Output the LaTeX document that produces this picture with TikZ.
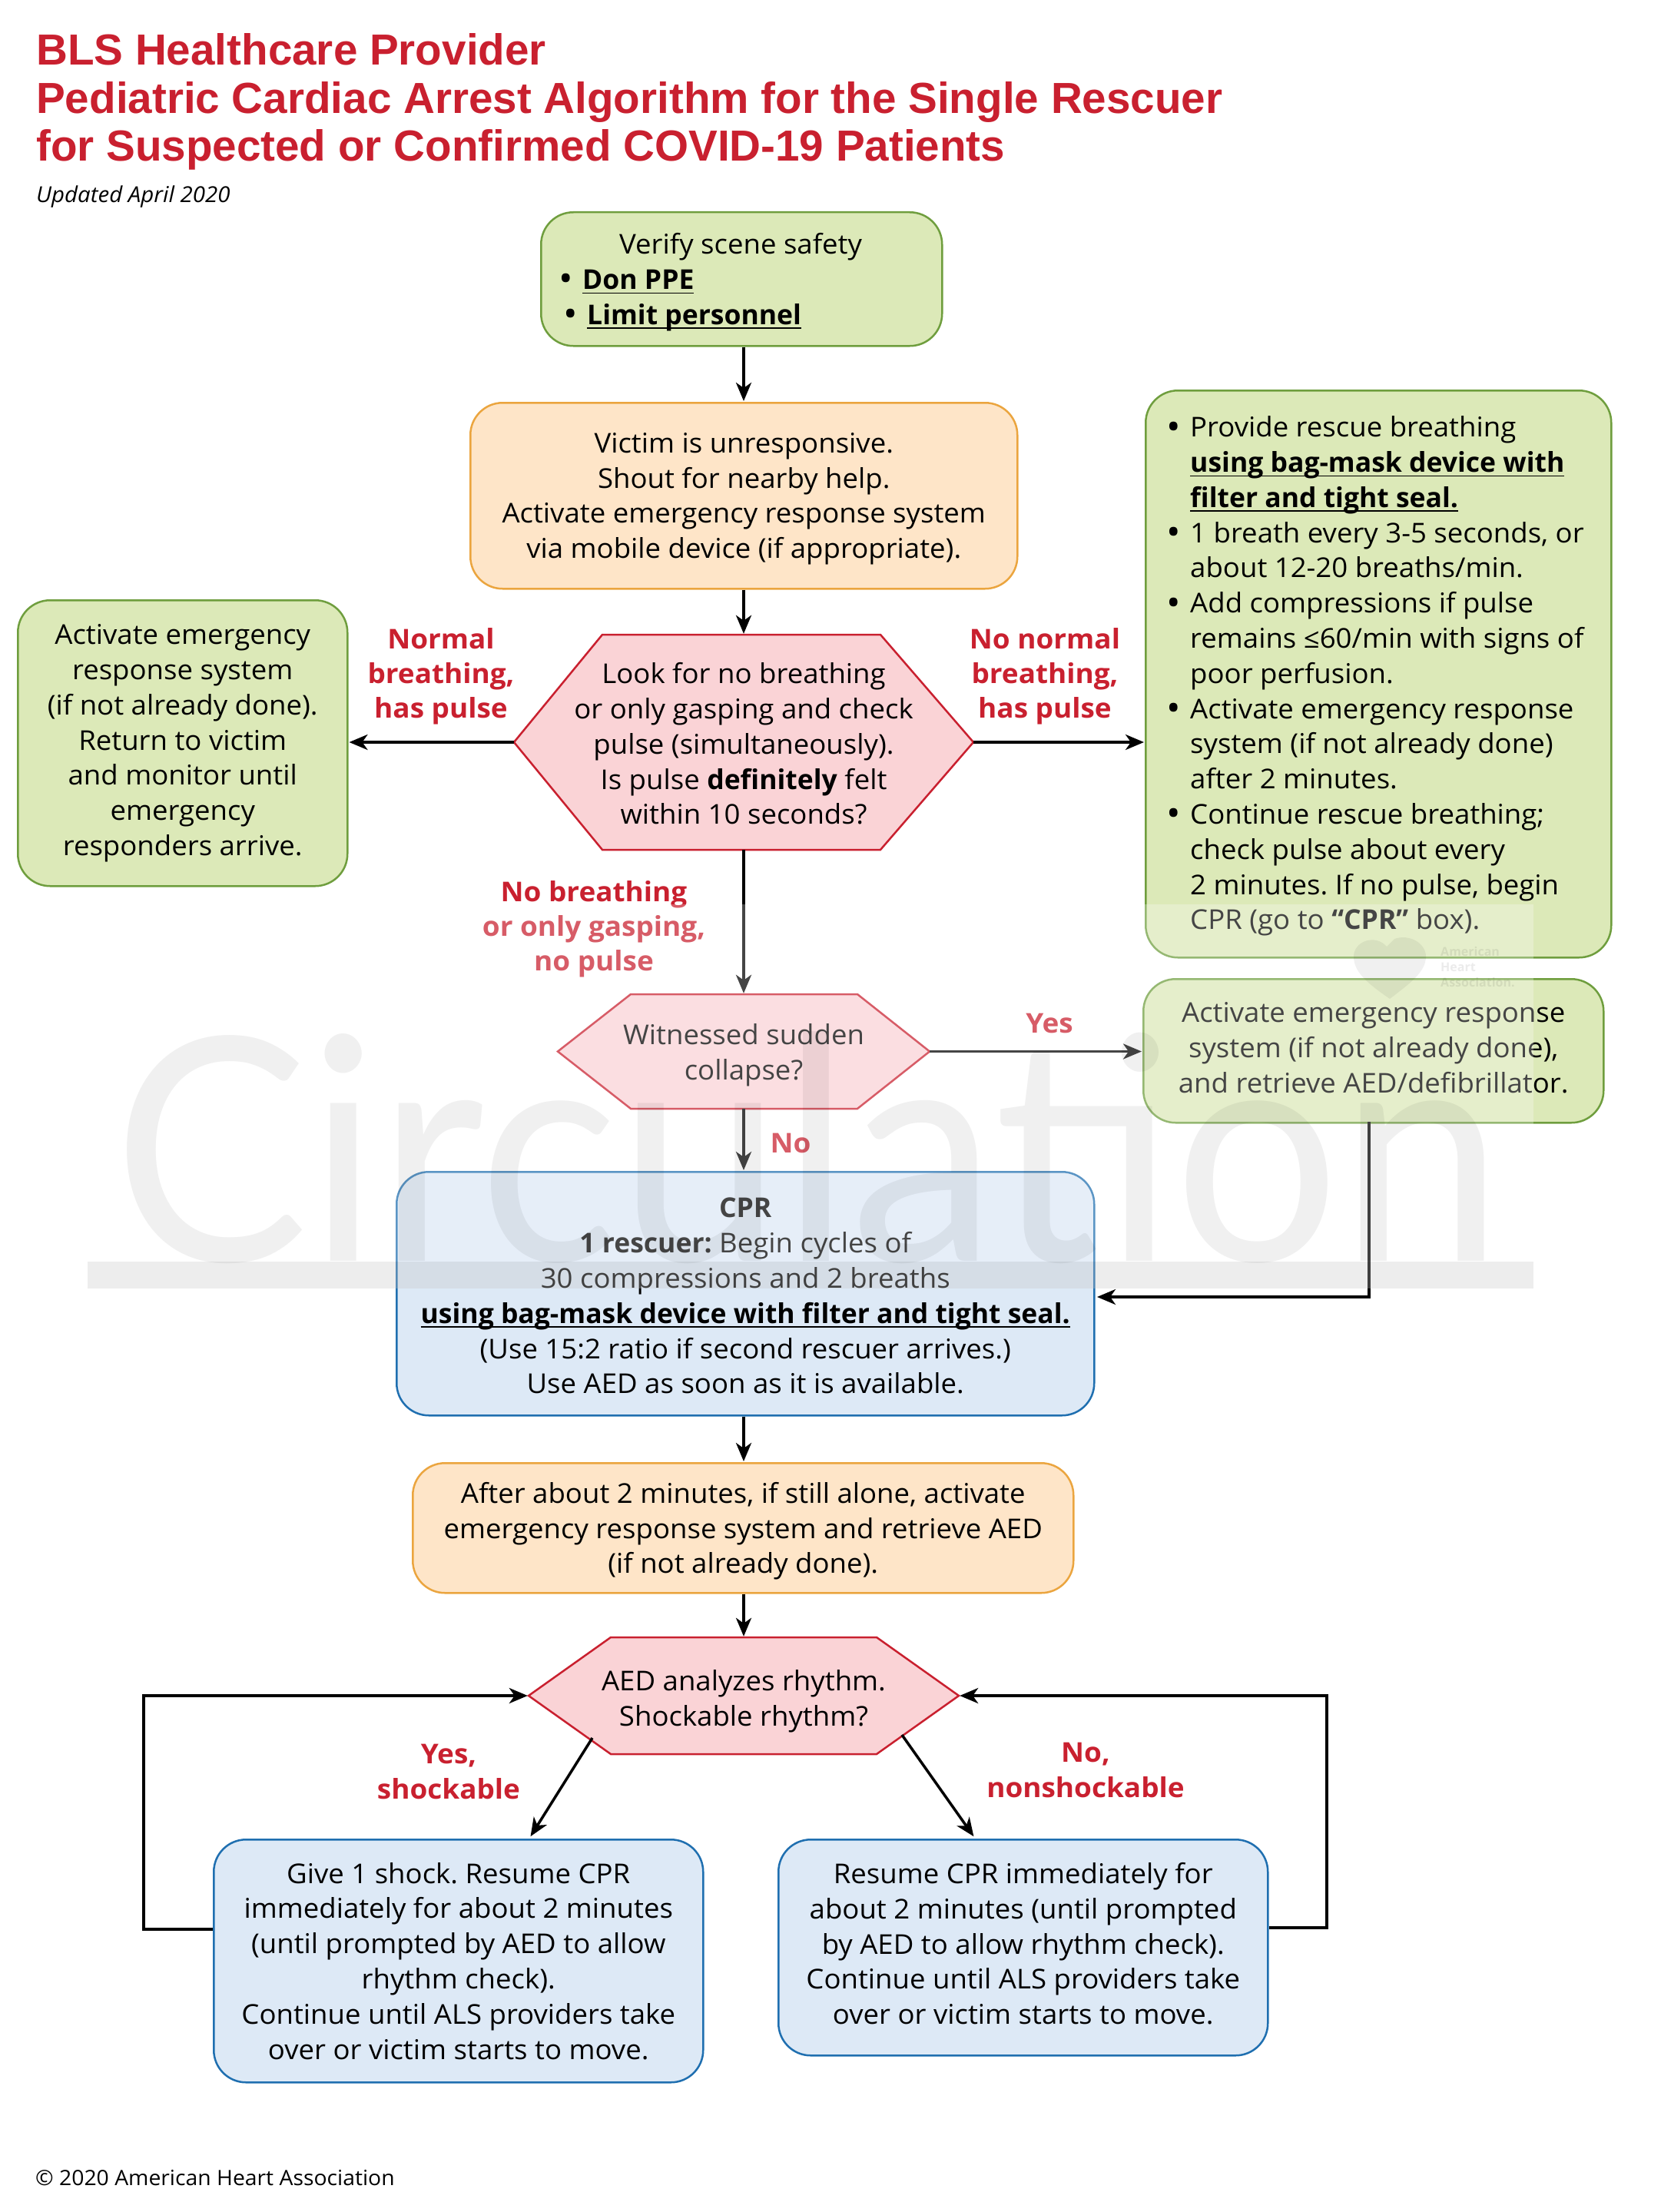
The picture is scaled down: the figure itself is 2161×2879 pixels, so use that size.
\documentclass[tikz,border=0pt]{standalone}
\usepackage{fontspec}
\usepackage{graphicx}
\setmainfont[FakeStretch=1.03,BoldFeatures={FakeStretch=1.0}]{Open Sans}
\newfontfamily\titlefont{Liberation Sans}
\newfontfamily\labfont[FakeStretch=1.04]{Open Sans}
\usetikzlibrary{arrows.meta,calc}
\definecolor{ahared}{HTML}{C9202F}
\definecolor{grfill}{HTML}{DCE9B8}
\definecolor{grline}{HTML}{6F9E3E}
\definecolor{orfill}{HTML}{FEE5C8}
\definecolor{orline}{HTML}{EBA53F}
\definecolor{hxfill}{HTML}{FAD3D6}
\definecolor{blfill}{HTML}{DDE9F6}
\definecolor{blline}{HTML}{1F6FB0}
\AtBeginDocument{\frenchspacing}
\newcommand\ulb[1]{\setbox0\hbox{\bfseries #1}\rlap{\rule[-6pt]{\wd0}{1.8pt}}\box0}
\newcommand\bul{\llap{\raisebox{-3.5pt}{\scalebox{1.35}{•}}\hspace{12pt}}}
\tikzset{
  x=1pt,y=-1pt,
  body/.style={font=\fontsize{35.5}{45.8}\selectfont,text=black,align=center,inner sep=0pt},
  flowbox/.style={draw,line width=2.5pt,rounded corners=42pt,anchor=north west,inner sep=0pt},
  green box/.style={flowbox,draw=grline,fill=grfill},
  orange box/.style={flowbox,draw=orline,fill=orfill},
  blue box/.style={flowbox,draw=blline,fill=blfill},
  hexshape/.style={draw=ahared,fill=hxfill,line width=2.5pt,line join=miter},
  arr/.style={draw=black,line width=3.5pt,shorten >=1pt,-{Stealth[length=24pt,width=20pt,inset=7pt]}},
  lab/.style={font=\fontsize{35.5}{45.2}\labfont\bfseries,text=ahared,align=center,inner sep=0pt},
  ttl/.style={font=\fontsize{56.6}{62}\titlefont\bfseries,text=ahared,anchor=base west,inner sep=0pt},
  small/.style={font=\fontsize{27.5}{32}\selectfont,text=black,inner sep=0pt,anchor=base west},
}
% style, name, x, y, w, h, text shift, text
\newcommand\boxnode[8]{%
  \node[#1,minimum width=#5 pt,minimum height=#6 pt] (#2) at (#3,#4) {};
  \node[body] (#2-t) at ($(#2.center)+(0,#7)$) {#8};
}
% name, left, inner left, inner right, right, top, bottom, text shift, text
\newcommand\hexnode[9]{%
  \pgfmathsetmacro\hxm{(#6+#7)/2}\pgfmathsetmacro\hxc{(#2+#5)/2}%
  \pgfmathsetmacro\hxw{#5-#2}\pgfmathsetmacro\hxh{#7-#6}%
  \draw[hexshape] (#2,\hxm) -- (#3,#6) -- (#4,#6) -- (#5,\hxm) -- (#4,#7) -- (#3,#7) -- cycle;
  \node[inner sep=0pt,minimum width=\hxw pt,minimum height=\hxh pt] (#1) at (\hxc,\hxm) {};
  \node[body] (#1-t) at ($(#1.center)+(0,#8)$) {#9};
}
\begin{document}
\begin{tikzpicture}
\useasboundingbox (0,0) rectangle (2161,2879);
\fill[white] (0,0) rectangle (2161,2879);
% title
\node[ttl] (t1) at (47,85) {BLS Healthcare Provider};
\node[ttl] (t2) at (47,148) {Pediatric Cardiac Arrest Algorithm for the Single Rescuer};
\node[ttl] (t3) at (47,210) {for Suspected or Confirmed COVID-19 Patients};
\node[small,font=\fontsize{28.6}{32}\selectfont\itshape] (upd) at (47,264) {Updated April 2020};
\node[small] (foot) at (46,2844) {© 2020 American Heart Association};
% boxes
\node[green box,minimum width=522pt,minimum height=174pt] (verify) at (703,275) {};
\node[body,anchor=west,align=left] (verifyt) at (730,367) {\hspace*{76pt}Verify scene safety\\
\hspace*{28pt}\bul\ulb{Don PPE}\\\hspace*{34pt}\bul\ulb{Limit personnel}};
\boxnode{orange box}{victim}{611}{523}{712}{242}{4}{Victim is unresponsive.\\Shout for nearby help.\\Activate emergency response system\\via mobile device (if appropriate).}
\boxnode{green box}{left}{22}{780}{429}{372}{0}{Activate emergency\\response system\\(if not already done).\\Return to victim\\and monitor until\\emergency\\responders arrive.}
\node[green box,minimum width=606pt,minimum height=738pt] (right) at (1490,507) {};
\node[body,anchor=west,align=left] (rightt) at (1549,880) {\bul Provide rescue breathing\\\ulb{using bag-mask device with}\\\ulb{filter and tight seal.}\\\bul 1 breath every 3-5 seconds, or\\about 12-20 breaths/min.\\\bul Add compressions if pulse\\remains ≤60/min with signs of\\poor perfusion.\\\bul Activate emergency response\\system (if not already done)\\after 2 minutes.\\\bul Continue rescue breathing;\\check pulse about every\\2 minutes. If no pulse, begin\\CPR (go to \textbf{“CPR”} box).};
\boxnode{green box}{aedget}{1487}{1273}{599}{187}{-4}{Activate emergency response\\system (if not already done),\\and retrieve AED/defibrillator.}
\boxnode{blue box}{cpr}{515}{1524}{908}{317}{3}{\textbf{CPR}\\\textbf{1 rescuer:} Begin cycles of\\30 compressions and 2 breaths\\\ulb{using bag-mask device with filter and tight seal.}\\(Use 15:2 ratio if second rescuer arrives.)\\Use AED as soon as it is available.}
\boxnode{orange box}{after}{536}{1903}{860}{169}{4}{After about 2 minutes, if still alone, activate\\emergency response system and retrieve AED\\(if not already done).}
\boxnode{blue box}{shock}{277}{2393}{637}{316}{0}{Give 1 shock. Resume CPR\\immediately for about 2 minutes\\(until prompted by AED to allow\\rhythm check).\\Continue until ALS providers take\\over or victim starts to move.}
\boxnode{blue box}{noshock}{1012}{2393}{637}{281}{-5}{Resume CPR immediately for\\about 2 minutes (until prompted\\by AED to allow rhythm check).\\Continue until ALS providers take\\over or victim starts to move.}
% hexagons
\hexnode{look}{669}{784}{1146}{1267}{826}{1106}{2}{Look for no breathing\\or only gasping and check\\pulse (simultaneously).\\Is pulse \textbf{definitely} felt\\within 10 seconds?}
\hexnode{wit}{726}{821}{1116}{1210}{1294}{1443}{5}{Witnessed sudden\\collapse?}
\hexnode{aed}{688}{795}{1141}{1248}{2131}{2283}{7}{AED analyzes rhythm.\\Shockable rhythm?}
% connector ends
\coordinate (aedl) at (771,2262);
\coordinate (aedr) at (1174,2258);
\coordinate (shockin) at (690,2391);
\coordinate (noshockin) at (1268,2391);
\coordinate (cprin) at (1427,1688);
\coordinate (aedgetout) at (1782,1460);
\coordinate (lloop) at (187,2511);
\coordinate (rloop) at (1727,2509);
% connectors
\draw[arr] (verify.south -| look) -- (victim.north -| look);
\draw[arr] (victim.south -| look) -- (look.north);
\draw[arr] (look.west) -- (left.east |- look.west);
\draw[arr] (look.east) -- (right.west |- look.east);
\draw[arr] (look.south) -- (wit.north -| look);
\draw[arr] (wit.east) -- (aedget.west |- wit.east);
\draw[arr] (wit.south -| look) -- (cpr.north -| look);
\draw[arr] (aedgetout) -- (aedgetout |- cprin) -- (cprin);
\draw[arr] (cpr.south -| look) -- (after.north -| look);
\draw[arr] (after.south -| look) -- (aed.north -| look);
\draw[arr] (aedl) -- (shockin);
\draw[arr] (aedr) -- (noshockin);
\draw[arr] (shock.west |- lloop) -- (lloop) -- (lloop |- aed.west) -- (aed.west);
\draw[arr] (noshock.east |- rloop) -- (rloop) -- (rloop |- aed.east) -- (aed.east);
% labels
\node[lab] (l1) at (574,880) {Normal\\breathing,\\has pulse};
\node[lab] (l2) at (1360,880) {No normal\\breathing,\\has pulse};
\node[lab] (l3) at (773,1209) {No breathing\\or only gasping,\\no pulse};
\node[lab] (l4) at (1366,1332) {Yes};
\node[lab] (l5) at (1029,1488) {No};
\node[lab] (l6) at (584,2306) {Yes,\\shockable};
\node[lab] (l7) at (1413,2304) {No,\\nonshockable};
% watermark
\fill[white,opacity=.27] (114,1177) rectangle (1996,1677);
\fill[black,opacity=.07] (114,1642) rectangle (1996,1677);
\node[opacity=.06,text=black,inner sep=0pt,anchor=south west] (wm) at (147,1645) {\resizebox{1807pt}{298pt}{\fontspec{Lato}Circulation}};
\fill[black,opacity=.06] (1809,1300) .. controls (1780,1280) and (1762,1265) .. (1762,1245) .. controls (1762,1225) and (1790,1215) .. (1805,1232) -- (1815,1222) .. controls (1835,1215) and (1856,1228) .. (1856,1245) .. controls (1856,1265) and (1835,1280) .. (1809,1300) -- cycle;
\node[opacity=.08,text=black,inner sep=0pt,anchor=north west,align=left,font=\fontsize{16}{20}\selectfont\bfseries] (aha) at (1875,1232) {American\\Heart\\Association.};
\end{tikzpicture}
\end{document}
